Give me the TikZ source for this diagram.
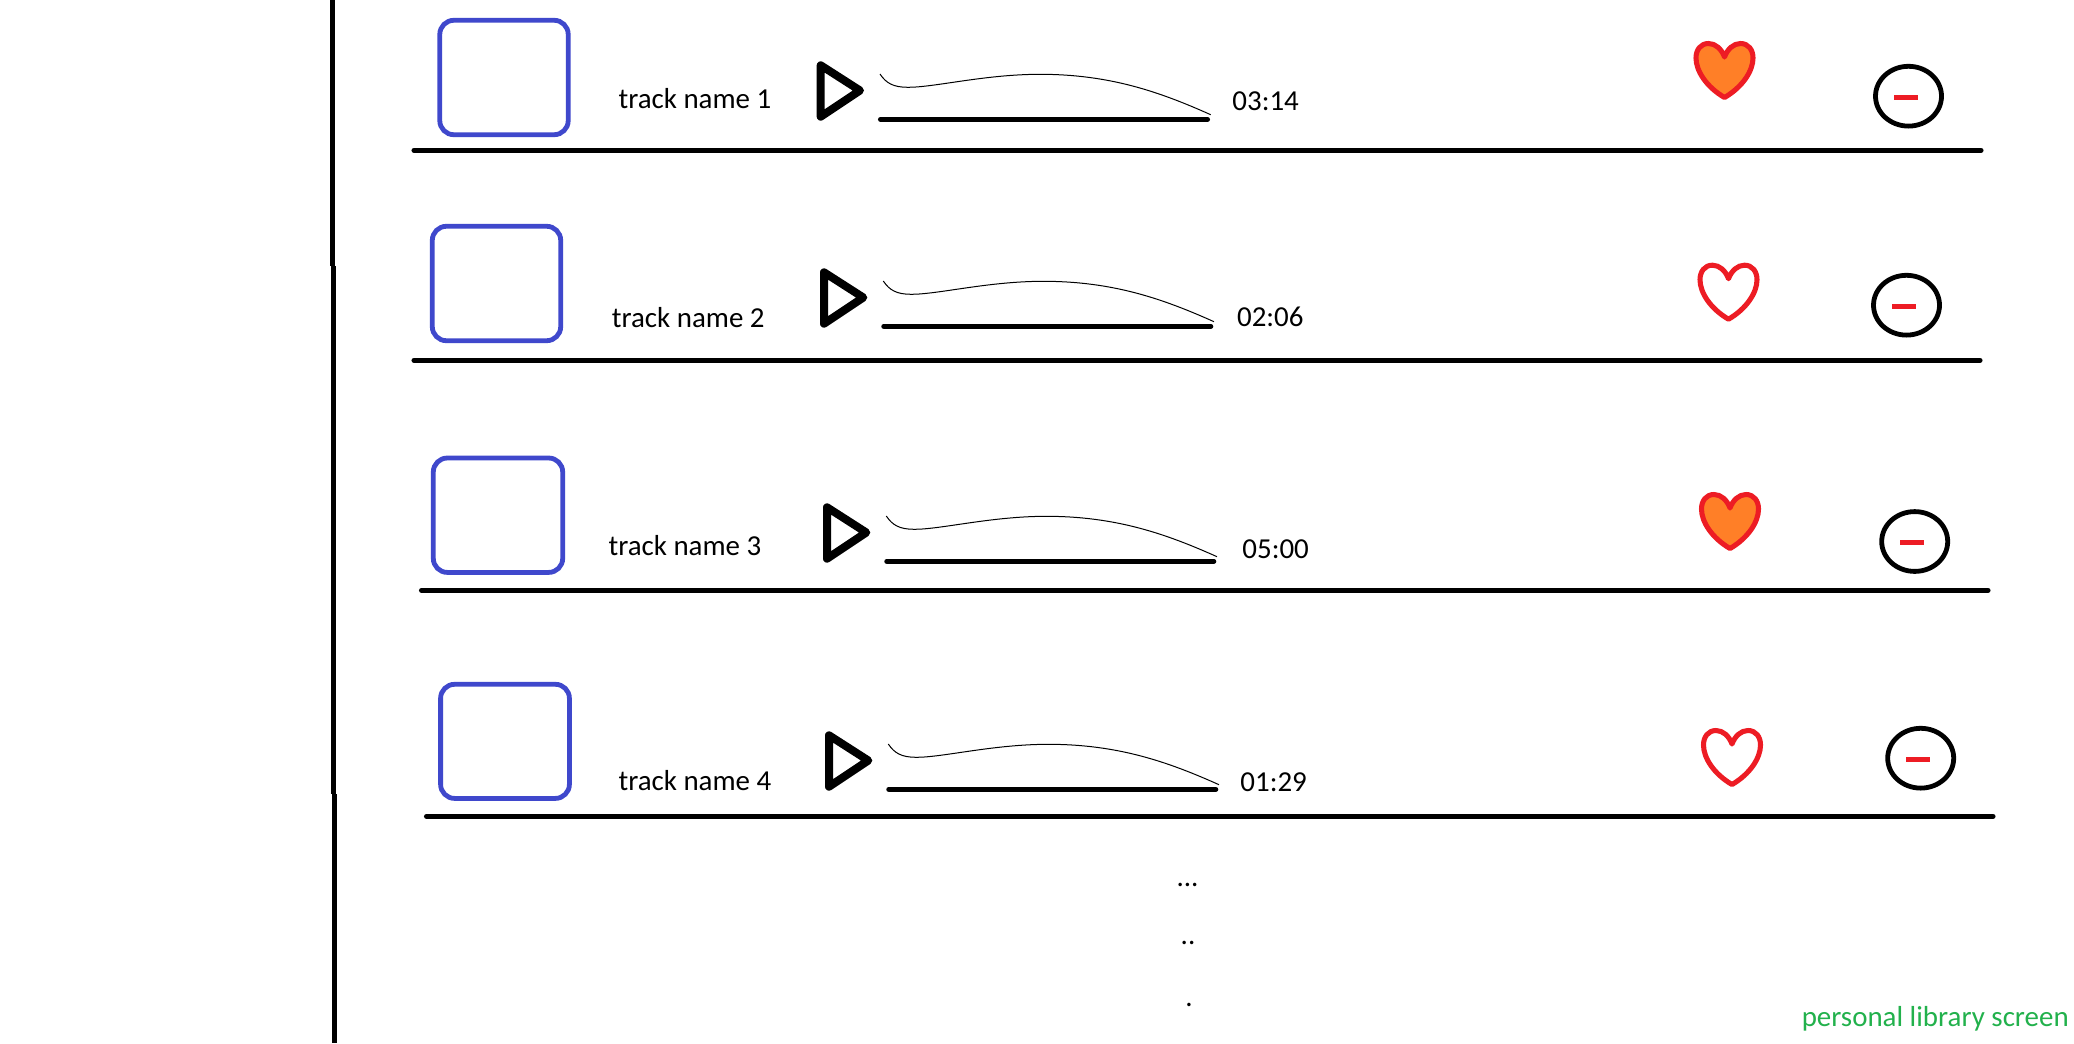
\documentclass[tikz,border=0pt]{standalone}
\usepackage{fontspec}
\setmainfont{Carlito}
\definecolor{boxblue}{HTML}{3F48CC}
\definecolor{heartred}{HTML}{ED1C24}
\definecolor{heartfill}{HTML}{FF7F27}
\definecolor{labelgreen}{HTML}{22B14C}
\tikzset{
  rule/.style={black,line width=3.8pt,line cap=round},
  sideline/.style={black,line width=3.6pt},
  coverbox/.style={draw=boxblue,line width=3.6pt,rounded corners=10.5pt},
  playicon/.style={draw=black,line width=6pt,line join=round},
  wave/.style={black,line width=0.75pt},
  progress/.style={black,line width=3.8pt,line cap=round},
  heartline/.style={draw=heartred,line width=3.8pt,line join=round},
  ring/.style={draw=black,line width=3.6pt},
  minusbar/.style={heartred,line width=3.75pt},
  label/.style={anchor=base west,inner sep=0pt,font=\fontsize{21.7}{26}\selectfont},
  dotlabel/.style={anchor=base,inner sep=0pt,font=\fontsize{21.7}{26}\selectfont}
}
\def\heartshape{(0,0) .. controls (-3,-8) and (-9,-13.5) .. (-16,-13.5) .. controls (-24,-13.5) and (-28.5,-7) .. (-28.5,1) .. controls (-28.5,14) and (-18,30) .. (0,40.5) .. controls (18,30) and (28.5,14) .. (28.5,1) .. controls (28.5,-7) and (24,-13.5) .. (16,-13.5) .. controls (9,-13.5) and (3,-8) .. (0,0) -- cycle}
\begin{document}
\begin{tikzpicture}[x=0.75pt,y=-0.75pt]
\useasboundingbox (0,0) rectangle (2074,1043);
\fill[white] (0,0) rectangle (2074,1043);
% side line, three strokes
\draw[sideline] (332.6,0) -- (332.6,266);
\draw[sideline] (333.5,266) -- (333.5,794);
\draw[sideline] (334.4,794) -- (334.4,1043);
% rules
\foreach \y/\a/\b in {150.3/414/1981,360.3/414/1980,590.3/421.5/1988,816.3/426.5/1993}
  \draw[rule] (\a,\y) -- (\b,\y);
% covers
\foreach \a/\b/\c/\d in {439.8/20.3/568.2/134.7,432.3/226.3/560.7/340.7,433.3/458/562.7/572.4,440.6/684.3/569.4/798.4}
  \draw[coverbox] (\a,\b) rectangle (\c,\d);
% play icon, wave and progress line
\foreach \dx/\dy/\n in {0/0/1,3.3/207/2,6.3/442/3,8.3/670/4}{
  \begin{scope}[shift={(\dx,\dy)}]
    \draw[playicon] (820.7,65.3) -- (860,90.5) -- (820.7,116.7) -- cycle;
    \draw[wave] (880,74) .. controls (886,83) and (893,87.3) .. (908,87.3) .. controls (935,87.3) and (985,74.3) .. (1040,74.3) .. controls (1110,74.3) and (1160,92) .. (1210.7,114.7);
    \draw[progress] (880.5,119.3) -- (1207.5,119.3);
  \end{scope}
}
% hearts
\foreach \hx/\hy/\hf in {1724.5/57/heartfill,1728.5/278.7/white,1730/508/heartfill,1732/744/white}{
  \begin{scope}[shift={(\hx,\hy)}]
    \path[heartline,fill=\hf] \heartshape;
  \end{scope}
}
% remove buttons
\foreach \cx/\cy/\mx/\my in {1908.5/96.2/1906/97.5,1906.5/305.2/1904/306.5,1914.7/541.5/1912/542.5,1920.7/758.2/1918/759.5}{
  \draw[ring] (\cx,\cy) ellipse [x radius=33,y radius=29.9];
  \draw[minusbar] (\mx-12,\my) -- (\mx+12,\my);
}
% labels
\node[label] (name1) at (618.3,108.5) {track name 1};
\node[label] (name2) at (611.6,327.5) {track name 2};
\node[label] (name3) at (608.3,555.5) {track name 3};
\node[label] (name4) at (618.3,790.5) {track name 4};
\node[label] (time1) at (1232.2,110.5) {03:14};
\node[label] (time2) at (1236.8,326) {02:06};
\node[label] (time3) at (1242.2,558) {05:00};
\node[label] (time4) at (1240.2,791.5) {01:29};
\node[dotlabel] (dots3) at (1187.5,886.5) {...};
\node[dotlabel] (dots2) at (1188,944.5) {..};
\node[dotlabel] (dots1) at (1189,1006.5) {.};
\node[label,text=labelgreen] (caption) at (1801.5,1026.5) {personal library screen};
\end{tikzpicture}
\end{document}
